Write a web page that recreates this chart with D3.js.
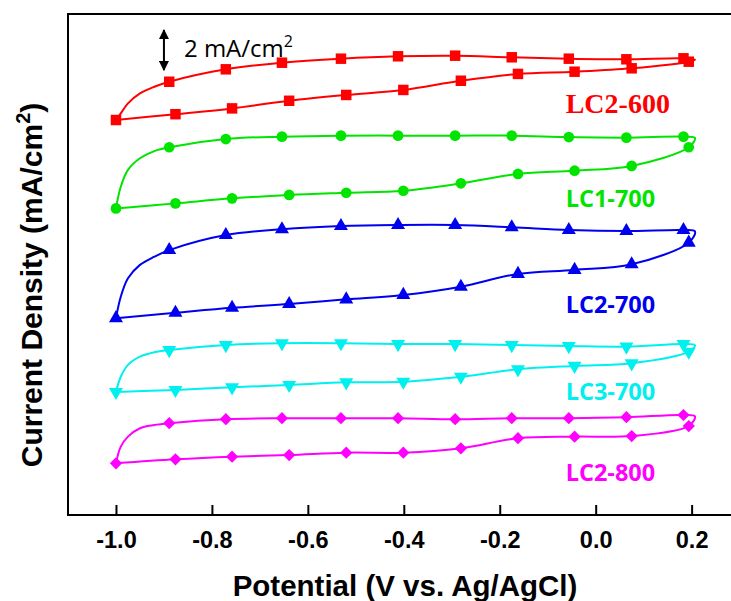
<!DOCTYPE html>
<html><head><meta charset="utf-8">
<script src="https://cdn.jsdelivr.net/npm/d3@7"></script>
<style>body{margin:0;background:#fff}svg{display:block}</style>
</head><body><svg id="c" width="731" height="601"></svg>
<script>
// ---- data ----
const seriesNames = ["LC2-600", "LC1-700", "LC2-700", "LC3-700", "LC2-800"];
const seriesColors = ["#ff0000", "#00e400", "#0000f0", "#00f0f0", "#ff00ff"];
const seriesSymbols = ["square", "circle", "triangle", "triangleDown", "diamond"];
// anodic (upper) branch marker potentials
const upperX = [-0.889, -0.771, -0.654, -0.531, -0.412, -0.293, -0.175, -0.056, 0.064, 0.183];
// cathodic (lower) branch marker potentials, scanned back to -1.0 (start)
const lowerX = [0.194, 0.075, -0.044, -0.162, -0.281, -0.401, -0.520, -0.639, -0.758, -0.876, -1.0];
// traced (unmarked) points of the initial rise and the turnaround
const riseX = [-0.99, -0.975, -0.95, -0.92];
const turnX = 0.207;
const upperY = [
  [21.62, 22.24, 22.57, 22.77, 22.89, 22.92, 22.84, 22.77, 22.74, 22.79],
  [18.35, 18.76, 18.88, 18.93, 18.93, 18.93, 18.93, 18.86, 18.83, 18.88],
  [13.22, 13.97, 14.26, 14.42, 14.47, 14.47, 14.36, 14.22, 14.17, 14.22],
  [8.23, 8.48, 8.57, 8.57, 8.53, 8.53, 8.48, 8.43, 8.40, 8.53],
  [4.58, 4.78, 4.83, 4.83, 4.83, 4.78, 4.83, 4.83, 4.88, 4.99]
];
const lowerY = [
  [22.62, 22.29, 22.12, 22.01, 21.67, 21.21, 20.96, 20.67, 20.29, 20.00, 19.71],
  [18.35, 17.42, 17.18, 17.02, 16.55, 16.18, 16.08, 15.97, 15.80, 15.55, 15.30],
  [13.59, 12.51, 12.23, 12.03, 11.39, 10.98, 10.76, 10.53, 10.34, 10.09, 9.82],
  [8.15, 7.57, 7.44, 7.27, 6.90, 6.65, 6.62, 6.49, 6.37, 6.24, 6.14],
  [4.44, 3.94, 3.91, 3.83, 3.33, 3.11, 3.11, 2.99, 2.91, 2.78, 2.58]
];
const riseY = [
  [20.04, 20.54, 21.04, 21.37],
  [16.38, 17.22, 17.80, 18.16],
  [10.89, 11.81, 12.48, 12.89],
  [6.90, 7.49, 7.90, 8.12],
  [3.41, 3.91, 4.33, 4.49]
];
const turnY = [22.72, 18.82, 14.15, 8.47, 4.92];
const labelX = -0.0625;
const labelY = [20.04, 15.38, 10.09, 5.74, 1.71];
const tickValues = [-1.0, -0.8, -0.6, -0.4, -0.2, 0.0, 0.2];
const tickLabels = ["-1.0", "-0.8", "-0.6", "-0.4", "-0.2", "0.0", "0.2"];
const scaleBar = {x: -0.9, y0: 22.2, len: 2, label: "2 mA/cm", sup: "2"};
const xTitle = "Potential (V vs. Ag/AgCl)";
const yTitle = "Current Density (mA/cm";

// ---- layout ----
const L = 68, T = 14, B = 515, R = 731;
const svg = d3.select("#c");
const x = d3.scaleLinear().domain([-1.1, 0.28]).range([L, 730]);
const y = d3.scaleLinear().domain([0, 25]).range([B, T]);

// frame (left, top, bottom; right side cropped)
svg.append("line").attr("x1", L).attr("x2", R).attr("y1", T).attr("y2", T)
  .attr("stroke", "#000").attr("stroke-width", 2);
svg.append("line").attr("x1", L).attr("x2", L).attr("y1", T - 1).attr("y2", B + 1)
  .attr("stroke", "#000").attr("stroke-width", 2);

const ax = svg.append("g").attr("transform", `translate(0,${B})`)
  .call(d3.axisBottom(x).tickValues(tickValues).tickSizeInner(-10).tickSizeOuter(0)
    .tickPadding(16).tickFormat((d, i) => tickLabels[i]));
ax.select(".domain").attr("d", `M${L},0H${R}`).attr("stroke-width", 2);
ax.selectAll(".tick line").attr("stroke-width", 2);
ax.selectAll(".tick text").attr("font-family", "'Liberation Sans', Arial, sans-serif")
  .attr("font-weight", "bold").attr("font-size", 23.5).attr("fill", "#000");

// axis titles
svg.append("text").attr("x", 405).attr("y", 596).attr("text-anchor", "middle")
  .attr("font-family", "'Liberation Sans', Arial, sans-serif").attr("font-weight", "bold")
  .attr("font-size", 29.5).text(xTitle);
const yt = svg.append("text").attr("transform", "translate(42,285) rotate(-90)")
  .attr("text-anchor", "middle")
  .attr("font-family", "'Liberation Sans', Arial, sans-serif").attr("font-weight", "bold")
  .attr("font-size", 30);
yt.append("tspan").text(yTitle);
yt.append("tspan").attr("font-size", 20).attr("dy", -12).text("2");
yt.append("tspan").attr("dy", 12).text(")");

// scale bar
const defs = svg.append("defs");
defs.append("marker").attr("id", "ah").attr("viewBox", "0 0 10 10").attr("refX", 9).attr("refY", 5)
  .attr("markerWidth", 10).attr("markerHeight", 10).attr("markerUnits", "userSpaceOnUse")
  .attr("orient", "auto-start-reverse")
  .append("path").attr("d", "M0,0L10,5L0,10z").attr("fill", "#000");
svg.append("line").attr("x1", x(scaleBar.x)).attr("x2", x(scaleBar.x))
  .attr("y1", y(scaleBar.y0)).attr("y2", y(scaleBar.y0 + scaleBar.len))
  .attr("stroke", "#000").attr("stroke-width", 2)
  .attr("marker-start", "url(#ah)").attr("marker-end", "url(#ah)");
const sb = svg.append("text").attr("x", x(scaleBar.x) + 20).attr("y", 57)
  .attr("font-family", "'Open Sans', sans-serif").attr("font-size", 24).attr("fill", "#000");
sb.append("tspan").text(scaleBar.label);
sb.append("tspan").attr("font-size", 16).attr("dy", -10).text(scaleBar.sup);

// series
const symMap = {
  square: {type: d3.symbolSquare, size: 110, rot: 0},
  circle: {type: d3.symbolCircle, size: 90, rot: 0},
  triangle: {type: d3.symbolTriangle, size: 85, rot: 0},
  triangleDown: {type: d3.symbolTriangle, size: 85, rot: 180},
  diamond: {type: d3.symbolSquare, size: 75, rot: 45}
};
const line = d3.line().x(d => x(d[0])).y(d => y(d[1])).curve(d3.curveCatmullRom.alpha(0.5));

seriesNames.forEach((name, s) => {
  const col = seriesColors[s];
  const pts = [];
  pts.push([lowerX[lowerX.length - 1], lowerY[s][lowerX.length - 1]]);
  riseX.forEach((v, i) => pts.push([v, riseY[s][i]]));
  upperX.forEach((v, i) => pts.push([v, upperY[s][i]]));
  pts.push([turnX, turnY[s]]);
  lowerX.forEach((v, i) => pts.push([v, lowerY[s][i]]));
  svg.append("path").attr("d", line(pts)).attr("fill", "none")
    .attr("stroke", col).attr("stroke-width", 2);

  const marks = upperX.map((v, i) => [v, upperY[s][i]])
    .concat(lowerX.map((v, i) => [v, lowerY[s][i]]));
  const sm = symMap[seriesSymbols[s]];
  const sym = d3.symbol().type(sm.type).size(sm.size);
  svg.append("g").selectAll("path").data(marks).join("path")
    .attr("d", sym)
    .attr("transform", d => `translate(${x(d[0])},${y(d[1])}) rotate(${sm.rot})`)
    .attr("fill", col);

  svg.append("text").attr("x", x(labelX)).attr("y", y(labelY[s]))
    .attr("font-family", s === 0 ? "'Liberation Serif', 'Times New Roman', serif" : "'Open Sans', sans-serif")
    .attr("font-weight", "bold").attr("font-size", s === 0 ? 28 : 23.5)
    .attr("fill", col).text(name);
});
</script>
</body></html>
